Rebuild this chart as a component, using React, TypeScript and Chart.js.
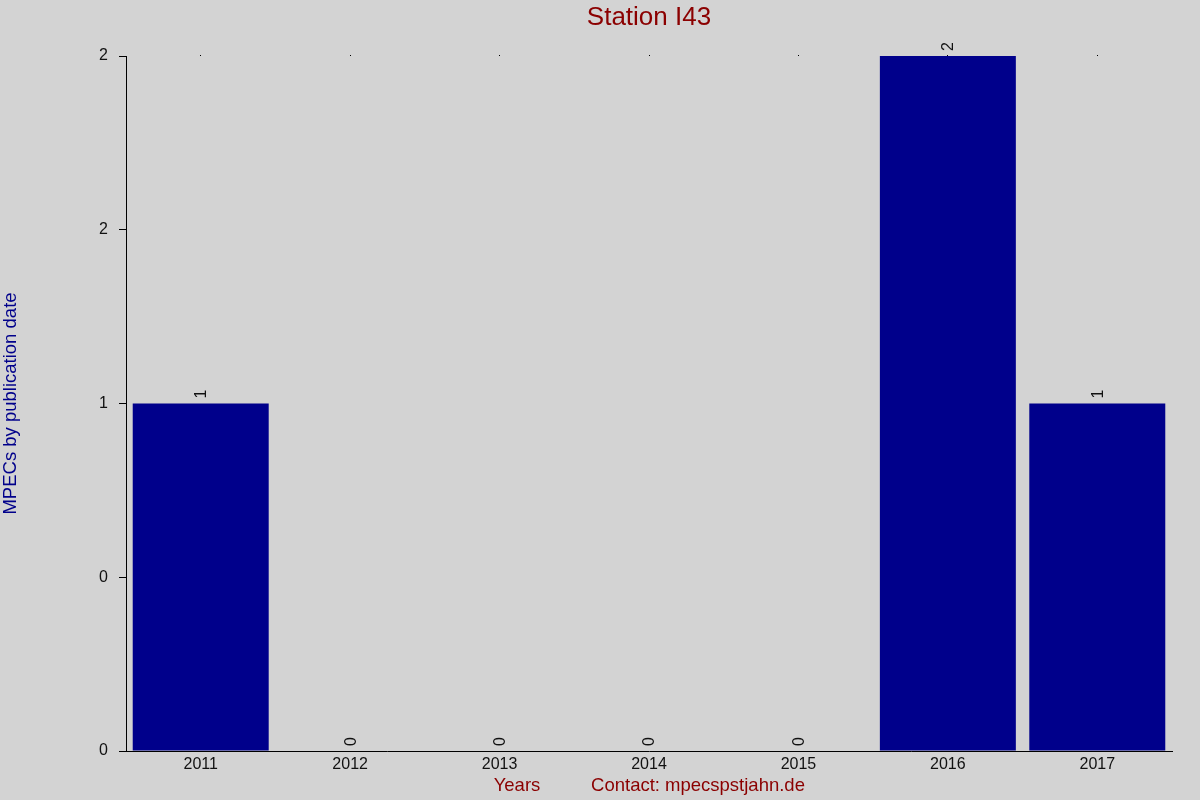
import React, { useEffect, useRef } from 'react';
import { Chart, registerables } from 'chart.js';

Chart.register(...registerables);

const years = ['2011', '2012', '2013', '2014', '2015', '2016', '2017'];
const mpecCounts = [1, 0, 0, 0, 0, 2, 1];
const yTickLabels = ['0', '0', '1', '2', '2'];

const FONT = '"Liberation Sans", Arial, sans-serif';

// value labels above each bar, rotated
const barLabels = {
  id: 'barLabels',
  afterDatasetsDraw(chart: any) {
    const ctx = chart.ctx;
    const meta = chart.getDatasetMeta(0);
    ctx.save();
    ctx.fillStyle = '#111';
    ctx.font = `16px ${FONT}`;
    ctx.textAlign = 'left';
    ctx.textBaseline = 'middle';
    meta.data.forEach((bar: any, i: number) => {
      ctx.save();
      ctx.translate(bar.x + 1, bar.y - 5);
      ctx.rotate(-Math.PI / 2);
      ctx.fillText(String(mpecCounts[i]), 0, 0);
      ctx.restore();
    });
    ctx.restore();
  },
};

// title and footer texts
const texts = {
  id: 'texts',
  afterDraw(chart: any) {
    const ctx = chart.ctx;
    const area = chart.chartArea;
    ctx.save();
    ctx.fillStyle = '#8B0000';
    ctx.textAlign = 'center';
    ctx.textBaseline = 'middle';
    ctx.font = `26px ${FONT}`;
    ctx.fillText('Station I43', (area.left + area.right) / 2, 18);
    ctx.font = `18.5px ${FONT}`;
    ctx.fillText('Years', 517, 786);
    ctx.fillText('Contact: mpecspstjahn.de', 698, 786);
    ctx.restore();
  },
};

const App: React.FC = () => {
  const canvasRef = useRef<HTMLCanvasElement>(null);

  useEffect(() => {
    document.body.style.margin = '0';
    if (!canvasRef.current) return;
    const chart = new Chart(canvasRef.current, {
      type: 'bar',
      data: {
        labels: years,
        datasets: [
          {
            data: mpecCounts,
            backgroundColor: '#00008B',
            borderWidth: 0,
            barPercentage: 0.91,
            categoryPercentage: 1,
          },
        ],
      },
      options: {
        animation: false,
        responsive: false,
        maintainAspectRatio: false,
        layout: { padding: { top: 56, right: 28, left: 0, bottom: 0 } },
        plugins: {
          legend: { display: false },
          title: { display: false },
          tooltip: { enabled: false },
        },
        scales: {
          x: {
            grid: { display: true, drawOnChartArea: false, drawTicks: false, color: '#000' },
            border: { display: true, color: '#000', width: 1 },
            ticks: { color: '#111', font: { size: 16, family: FONT }, padding: 4 },
            afterFit(scale: any) {
              scale.height = 49;
            },
          },
          // tiny tick dots along the top edge
          xTop: {
            type: 'category',
            position: 'top',
            labels: years,
            offset: true,
            grid: { display: true, offset: false, drawOnChartArea: false, drawTicks: true, tickLength: 1, color: '#000' },
            border: { display: false },
            ticks: { display: false },
            afterFit(scale: any) {
              scale.height = 0;
            },
          },
          y: {
            min: 0,
            max: 2,
            grid: { display: true, drawOnChartArea: false, drawTicks: true, tickLength: 7, color: '#000' },
            border: { display: true, color: '#000', width: 1 },
            ticks: {
              stepSize: 0.5,
              color: '#111',
              padding: 11,
              font: { size: 16, family: FONT },
              callback: (_v: any, i: number) => yTickLabels[i],
            },
            title: {
              display: true,
              text: 'MPECs by publication date',
              color: '#00008B',
              font: { size: 18.5, family: FONT },
              padding: 0,
            },
            afterFit(scale: any) {
              scale.width = 126;
            },
          },
        },
      },
      plugins: [barLabels, texts],
    });
    return () => chart.destroy();
  }, []);

  return (
    <div style={{ width: 1200, height: 800, background: '#D3D3D3' }}>
      <canvas ref={canvasRef} width={1200} height={800} style={{ width: 1200, height: 800 }} />
    </div>
  );
};

export default App;
